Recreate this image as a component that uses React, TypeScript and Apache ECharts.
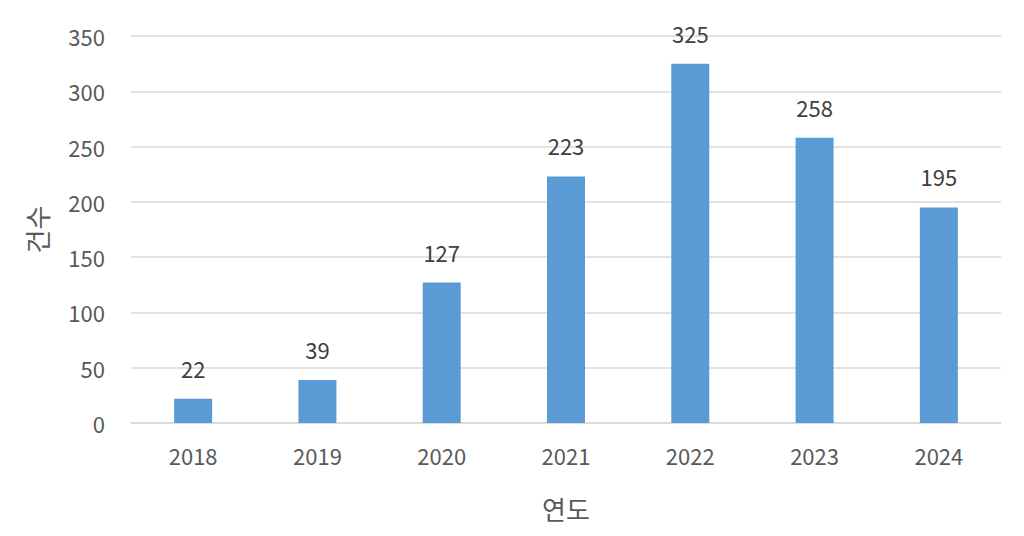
import React from 'react';
import * as echarts from 'echarts';

const years = ['2018', '2019', '2020', '2021', '2022', '2023', '2024'];
const counts = [22, 39, 127, 223, 325, 258, 195];

const FONT = '"Noto Sans CJK KR", "Noto Sans", sans-serif';

const buildOption = (): echarts.EChartsOption => ({
  animation: false,
  grid: { left: 131, right: 23, top: 36, bottom: 113 },
  xAxis: {
    type: 'category',
    data: years,
    name: '연도',
    nameLocation: 'middle',
    nameGap: 72,
    nameTextStyle: { fontFamily: FONT, fontSize: 26, color: '#595959' },
    axisLine: { lineStyle: { color: '#d9d9d9', width: 1.5 } },
    axisTick: { show: false },
    axisLabel: {
      margin: 21,
      fontFamily: FONT,
      fontSize: 22,
      color: '#595959',
    },
  },
  yAxis: {
    type: 'value',
    min: 0,
    max: 350,
    interval: 50,
    name: '건수',
    nameLocation: 'middle',
    nameGap: 82,
    nameTextStyle: { fontFamily: FONT, fontSize: 26, color: '#595959' },
    axisLine: { show: false },
    axisTick: { show: false },
    splitLine: { lineStyle: { color: '#d9d9d9', width: 1.5 } },
    axisLabel: {
      margin: 26,
      fontFamily: FONT,
      fontSize: 22,
      color: '#595959',
    },
  },
  series: [
    {
      type: 'bar',
      data: counts,
      barWidth: 38,
      itemStyle: { color: '#5b9bd5' },
      label: {
        show: true,
        position: 'top',
        distance: 20,
        fontFamily: FONT,
        fontSize: 22,
        color: '#404040',
      },
    },
  ],
});

export default function App() {
  const chartRef = React.useRef<HTMLDivElement>(null);

  React.useEffect(() => {
    if (!chartRef.current) return;
    const instance = echarts.init(chartRef.current, null, { renderer: 'svg' });
    instance.setOption(buildOption());
    return () => {
      instance.dispose();
    };
  }, []);

  return (
    <div
      ref={chartRef}
      style={{ position: 'fixed', left: 0, top: 0, width: 1024, height: 536, background: '#fff' }}
    />
  );
}
